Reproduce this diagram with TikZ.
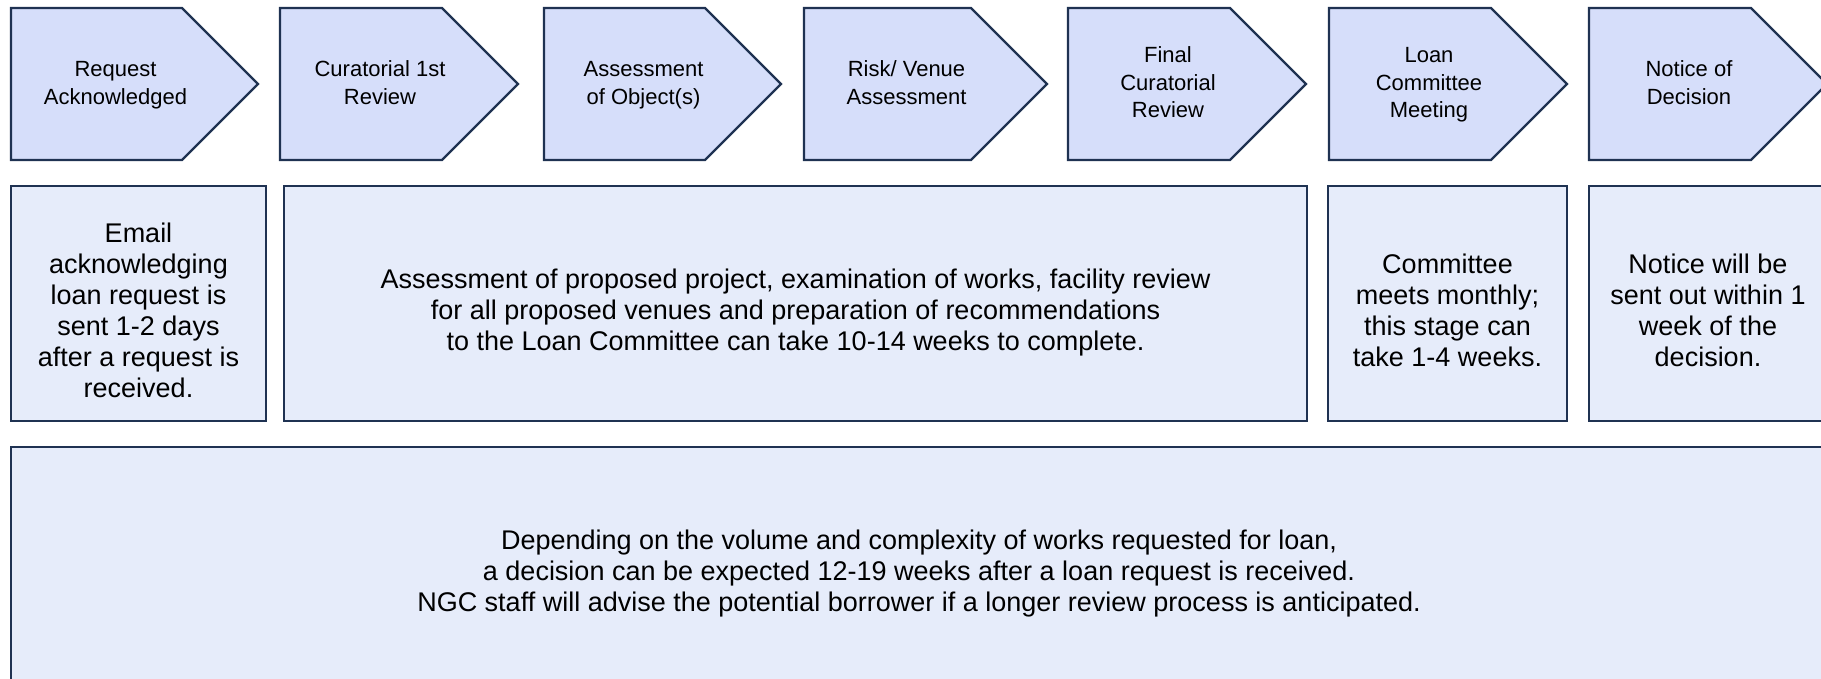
\documentclass[tikz,border=0pt]{standalone}
\usepackage{fontspec}
\setmainfont{Liberation Sans}
\usetikzlibrary{positioning}
\definecolor{stageColor}{RGB}{214,222,250}
\definecolor{noteColor}{RGB}{230,236,250}
\definecolor{lineColor}{RGB}{31,50,82}
% struts that push the centred text a little lower, as in the source
\newcommand{\stagetop}{\rule{0pt}{20pt}}
\newcommand{\stagebot}{\rule[-7.4pt]{0pt}{0pt}}
\newcommand{\notetop}{\rule{0pt}{39pt}}
\newcommand{\notebot}{\rule[-7pt]{0pt}{0pt}}
\tikzset{stage/.style={draw=lineColor, fill=stageColor, line width=2.2pt, line join=miter}}
\tikzset{stagetext/.style={align=center, font=\fontsize{22}{27.5}\selectfont, inner sep=0pt}}
\tikzset{note/.style={draw=lineColor, fill=noteColor, line width=2.2pt, align=center, font=\fontsize{27}{31}\selectfont, inner sep=0pt, outer sep=0pt, minimum height=235pt}}

\begin{document}
\begin{tikzpicture}[x=1pt, y=-1pt]
\useasboundingbox (0,0) rectangle (1821,678);

% Stages
\foreach \stagename/\xl/\xt/\stagelabel in {
  RequestAcknowledged/11/258/{Request\\Acknowledged},
  CuratorialReview/280/518/{Curatorial 1st\\Review},
  ObjectAssessment/544/781/{Assessment\\of Object(s)},
  VenueAssessment/804/1047/{Risk/ Venue\\Assessment},
  FinalReview/1068/1306/{Final\\Curatorial\\Review},
  CommitteeMeeting/1329/1567/{Loan\\Committee\\Meeting},
  NoticeDecision/1589/1827/{Notice of\\Decision}}{
  \draw [stage] (\xl,8) -- (\xt-76,8) -- (\xt,84) -- (\xt-76,160) -- (\xl,160) -- cycle;
  \node (\stagename) [stagetext] at ({(\xl+\xt)/2-19},84) {\stagetop\stagelabel\stagebot};
}

% Notes
\node (EmailNote) [note, anchor=north west, minimum width=255pt] at (11,186) {\notetop Email\\acknowledging\\loan request is\\sent 1-2 days\\after a request is\\received.\notebot};
\node (AssessmentNote) [note, minimum width=1023pt, right=18pt of EmailNote] {\notetop Assessment of proposed project, examination of works, facility review\\for all proposed venues and preparation of recommendations\\to the Loan Committee can take 10-14 weeks to complete.\notebot};
\node (CommitteeNote) [note, minimum width=239pt, right=21pt of AssessmentNote] {\notetop Committee\\meets monthly;\\this stage can\\take 1-4 weeks.\notebot};
\node (NoticeNote) [note, minimum width=238pt, right=22pt of CommitteeNote] {\notetop Notice will be\\sent out within 1\\week of the\\decision.\notebot};

\node (TimelineNote) [note, anchor=north west, minimum width=1816pt] at (11,447) {\notetop Depending on the volume and complexity of works requested for loan,\\a decision can be expected 12-19 weeks after a loan request is received.\\NGC staff will advise the potential borrower if a longer review process is anticipated.\notebot};

\end{tikzpicture}
\end{document}
